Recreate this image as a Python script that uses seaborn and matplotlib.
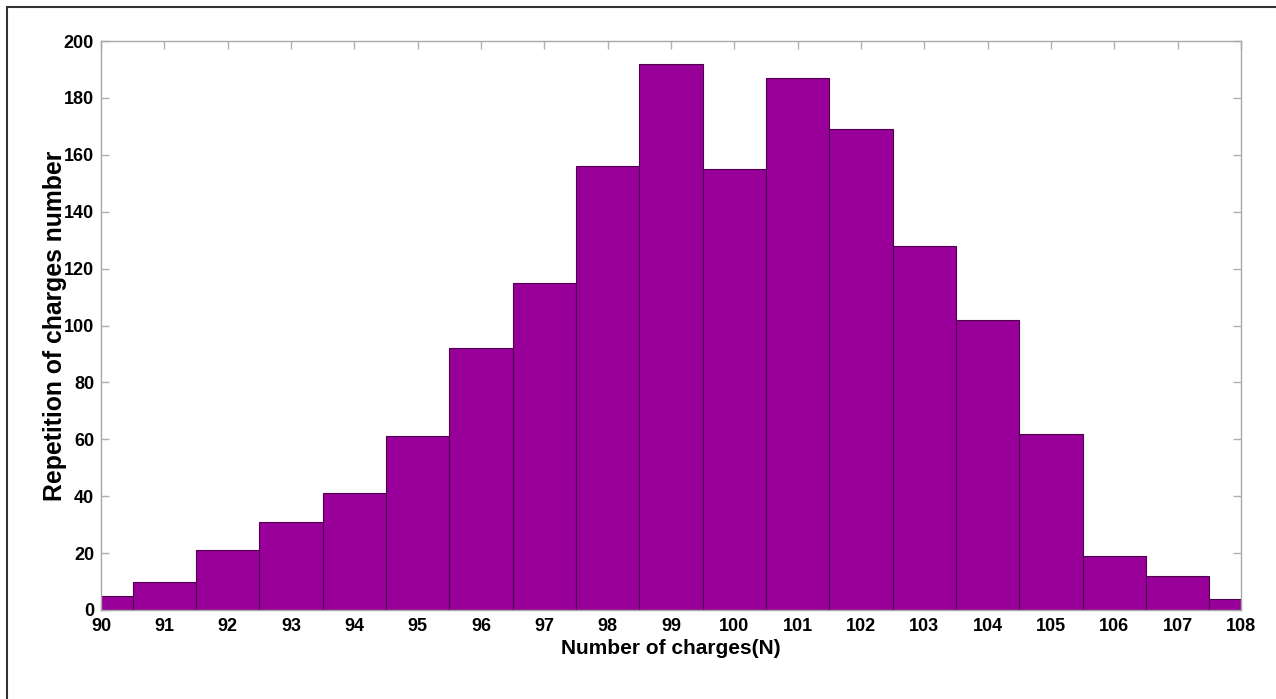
import matplotlib
matplotlib.use("Agg")
import matplotlib.pyplot as plt
import seaborn as sns
import numpy as np
from matplotlib.patches import Rectangle

charges = [90, 91, 92, 93, 94, 95, 96, 97, 98, 99, 100, 101, 102, 103, 104, 105, 106, 107, 108]
counts = [5, 10, 21, 31, 41, 61, 92, 115, 156, 192, 155, 187, 169, 128, 102, 62, 19, 12, 4]
xticks = list(range(90, 109))
yticks = list(range(0, 201, 20))

sns.set_style("white")
plt.rcParams['font.family'] = ['Liberation Sans', 'DejaVu Sans']

fig = plt.figure(figsize=(12.76, 6.99), dpi=100)
ax = fig.add_axes([101/1276, 1 - 610/699, (1241 - 101)/1276, (610 - 41)/699])

sns.histplot(x=charges, weights=counts, discrete=True, ax=ax,
             color="#990099", alpha=1, edgecolor="#4d004d", linewidth=0.8)

tick_fs = 13
ax.set_xlim(90, 108)
ax.set_ylim(0, 200)
ax.set_xticks(xticks)
ax.set_yticks(yticks)
ax.set_xticklabels([str(t) for t in xticks], fontsize=tick_fs, fontweight="bold", color="black")
ax.set_yticklabels([str(t) for t in yticks], fontsize=tick_fs, fontweight="bold", color="black")
ax.tick_params(direction="in", length=6, width=1, color="#b0b0b0",
               top=True, right=True, bottom=True, left=True)
ax.tick_params(axis="x", pad=6)
ax.tick_params(axis="y", pad=5)
for s in ax.spines.values():
    s.set_color("#a8a8a8")
    s.set_linewidth(1)
    s.set_visible(True)
ax.set_xlabel("Number of charges(N)", fontsize=15, fontweight="bold",
              color="black", labelpad=3)
ax.set_ylabel("Repetition of charges number", fontsize=17.8, fontweight="bold",
              color="black")
ax.yaxis.set_label_coords(-0.03, 0.5)

fig.patches.append(Rectangle((7/1276, -0.05), 1.2, 1 - 7/699 + 0.05,
                             transform=fig.transFigure, fill=False,
                             edgecolor="#333333", linewidth=1.5))

fig.savefig("out.png", dpi=100)
